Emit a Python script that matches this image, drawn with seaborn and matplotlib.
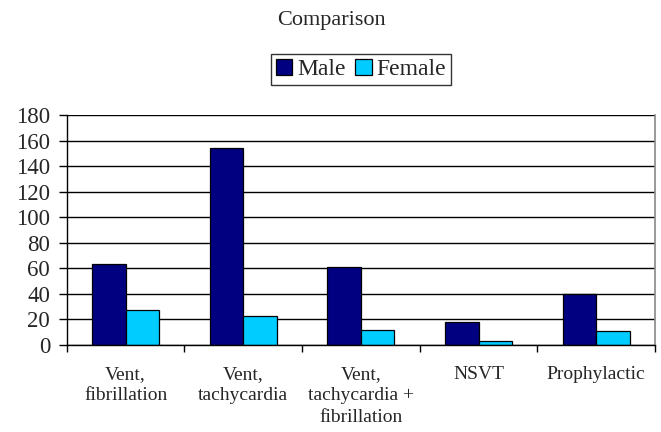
import numpy as np
import pandas as pd
import matplotlib
matplotlib.use("Agg")
import matplotlib.pyplot as plt
import seaborn as sns
from matplotlib.ticker import FixedLocator

categories = ["Vent,\nfibrillation", "Vent,\ntachycardia", "Vent,\ntachycardia +\nfibrillation",
              "NSVT", "Prophylactic"]
male = [63, 154, 61, 18, 40]
female = [27, 23, 12, 3, 11]
yticks = [0, 20, 40, 60, 80, 100, 120, 140, 160, 180]

sns.set_style("white")
plt.rcParams['font.family'] = ['Liberation Serif', 'DejaVu Serif']

df = pd.DataFrame({
    "cat": categories * 2,
    "value": male + female,
    "sex": ["Male"] * len(male) + ["Female"] * len(female),
})

fig = plt.figure(figsize=(6.61, 4.32), dpi=100)
ax = fig.add_axes([0.101, 0.2014, 0.890, 0.5324])

sns.barplot(data=df, x="cat", y="value", hue="sex", order=categories,
            hue_order=["Male", "Female"], palette=["#000080", "#00CCFF"],
            width=0.57, gap=0, edgecolor="black", linewidth=0.9,
            saturation=1, ax=ax, legend=True)

ax.set_xlim(-0.5, len(categories) - 0.5)
ax.set_ylim(0, 180)
ax.set_yticks(yticks)
ax.set_xlabel("")
ax.set_ylabel("")
ax.yaxis.grid(True, color="black", linewidth=1)
ax.set_axisbelow(True)

# category boundary ticks on the x axis
ax.xaxis.set_minor_locator(FixedLocator(np.arange(-0.5, len(categories), 1.0)))
ax.tick_params(axis="x", which="major", length=0, pad=15, labelsize=14)
ax.tick_params(axis="x", which="minor", bottom=True, length=5, width=1, color="black")
ax.tick_params(axis="y", left=True, length=6, width=1, color="black", labelsize=16.5, pad=6)
for t in ax.get_xticklabels():
    t.set_linespacing(1.35)

for s in ["left", "bottom"]:
    ax.spines[s].set_color("black")
    ax.spines[s].set_linewidth(1)
ax.spines["right"].set_color("#888888")
ax.spines["right"].set_linewidth(1.2)
ax.spines["top"].set_visible(False)

h, l = ax.get_legend_handles_labels()
ax.legend_.remove()
leg = fig.legend(h, l, loc="center", bbox_to_anchor=(0.546, 0.839), ncol=2,
                 fontsize=17, frameon=True, fancybox=False, handlelength=0.7,
                 handleheight=0.7, handletextpad=0.2, columnspacing=0.4,
                 borderpad=0.2, borderaxespad=0)
leg.get_frame().set_edgecolor("black")
leg.get_frame().set_linewidth(1)

fig.text(0.502, 0.952, "Comparison", ha="center", va="center", fontsize=16)

fig.savefig("out.png", dpi=100)
